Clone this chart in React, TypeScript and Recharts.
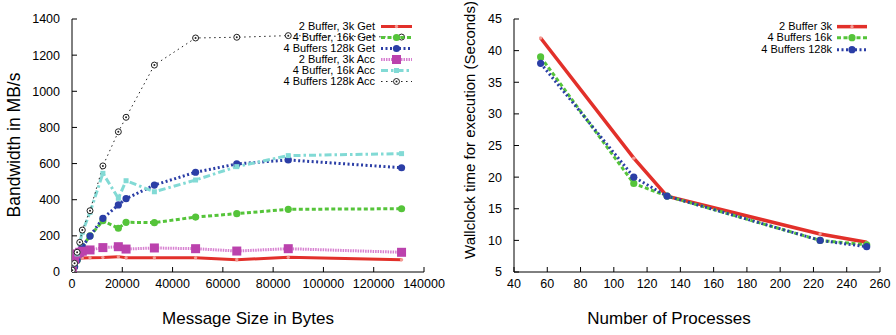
import { Legend, Line, LineChart, XAxis, YAxis } from "recharts";

const FONT = '"Liberation Sans", Arial, Helvetica, sans-serif';

// left chart: bandwidth vs message size
const msgSizes = [128, 1024, 2048, 3072, 4096, 7168, 12288, 18432, 21504, 32768, 49152, 65536, 86016, 131072];
const get3k = [5, 45, 65, 75, 78, 79, 80, 85, 79, 79, 79, 68, 81, 68];
const get16k = [5, 30, 65, 100, 140, 200, 284, 242, 275, 273, 304, 323, 347, 350];
const get128k = [5, 29, 66, 100, 140, 199, 297, 371, 406, 481, 552, 598, 620, 577];
const acc3k = [5, 70, 100, 109, 115, 122, 135, 140, 127, 133, 129, 116, 129, 109];
const acc16k = [5, 45, 100, 160, 220, 330, 546, 408, 505, 444, 509, 583, 644, 655];
const acc128k = [10, 48, 109, 164, 232, 339, 587, 776, 856, 1145, 1295, 1299, 1308, 1300];

const sizeTicks = [0, 20000, 40000, 60000, 80000, 100000, 120000, 140000];
const bwTicks = [0, 200, 400, 600, 800, 1000, 1200, 1400];

// right chart: wallclock time vs number of processes
const procs = [56, 112, 132, 224, 252];
const wall3k = [42, 23, 17, 11, 9.7];
const wall16k = [39, 19, 17, 10, 9.3];
const wall128k = [38, 20, 17, 10, 9];

const procTicks = [40, 60, 80, 100, 120, 140, 160, 180, 200, 220, 240, 260];
const timeTicks = [5, 10, 15, 20, 25, 30, 35, 40, 45];

const leftData = msgSizes.map((size, i) => ({
  size,
  get3k: get3k[i],
  get16k: get16k[i],
  get128k: get128k[i],
  acc3k: acc3k[i],
  acc16k: acc16k[i],
  acc128k: acc128k[i],
}));

const rightData = procs.map((p, i) => ({ p, t3k: wall3k[i], t16k: wall16k[i], t128k: wall128k[i] }));

type Series = {
  key: string;
  name: string;
  color: string;
  lineColor: string;
  width: number;
  dash?: string;
  marker: string;
};

const leftSeries: Series[] = [
  { key: "get3k", name: "2 Buffer, 3k Get", color: "#e2302a", lineColor: "#e2302a", width: 3, marker: "dot" },
  { key: "get16k", name: "4 Buffer, 16k Get", color: "#55c43a", lineColor: "#55c43a", width: 3, dash: "4 2.5", marker: "circle" },
  { key: "get128k", name: "4 Buffers 128k Get", color: "#2b3ea6", lineColor: "#2b3ea6", width: 3, dash: "2 2.5", marker: "circle" },
  { key: "acc3k", name: "2 Buffer, 3k Acc", color: "#bb42ad", lineColor: "#d77ed0", width: 3, dash: "1.5 1", marker: "square" },
  { key: "acc16k", name: "4 Buffer, 16k Acc", color: "#82dad5", lineColor: "#82dad5", width: 3, dash: "7 3 2.5 3", marker: "smallSquare" },
  { key: "acc128k", name: "4 Buffers 128k Acc", color: "#222222", lineColor: "#222222", width: 1, dash: "1.5 3.5", marker: "ring" },
];

const rightSeries: Series[] = [
  { key: "t3k", name: "2 Buffer 3k", color: "#e2302a", lineColor: "#e2302a", width: 3.5, marker: "dot" },
  { key: "t16k", name: "4 Buffers 16k", color: "#55c43a", lineColor: "#55c43a", width: 3, dash: "4 2.5", marker: "circle" },
  { key: "t128k", name: "4 Buffers 128k", color: "#2b3ea6", lineColor: "#2b3ea6", width: 3, dash: "2 2.5", marker: "circle" },
];

function markerShape(m: string, cx: number, cy: number, color: string, key?: string | number) {
  switch (m) {
    case "dot":
      return <circle key={key} cx={cx} cy={cy} r={1.7} fill="#f39a93" />;
    case "circle":
      return <circle key={key} cx={cx} cy={cy} r={3.6} fill={color} />;
    case "square":
      return <rect key={key} x={cx - 4.5} y={cy - 4.5} width={9} height={9} fill={color} />;
    case "smallSquare":
      return <rect key={key} x={cx - 2.5} y={cy - 2.5} width={5} height={5} fill={color} />;
    default:
      return (
        <g key={key}>
          <circle cx={cx} cy={cy} r={3} fill="#fff" stroke={color} strokeWidth={1} />
          <circle cx={cx} cy={cy} r={1} fill={color} />
        </g>
      );
  }
}

function LegendBox(props: { series: Series[]; rowH: number; gap: number; sample: number }) {
  const { series, rowH, gap, sample } = props;
  return (
    <div style={{ fontFamily: FONT, fontSize: 11, color: "#000" }}>
      {series.map((s) => (
        <div
          key={s.key}
          style={{ display: "flex", justifyContent: "flex-end", alignItems: "center", height: rowH, lineHeight: rowH + "px" }}
        >
          <span style={{ whiteSpace: "nowrap" }}>{s.name}</span>
          <svg width={sample} height={rowH} style={{ marginLeft: gap, display: "block" }}>
            <line x1={0} x2={sample} y1={rowH / 2} y2={rowH / 2} stroke={s.lineColor} strokeWidth={s.width} strokeDasharray={s.dash} />
            {markerShape(s.marker, sample / 2, rowH / 2, s.color)}
          </svg>
        </div>
      ))}
    </div>
  );
}

const tickStyle = { fill: "#000", fontSize: 12.5, fontFamily: FONT };

export default function App() {
  return (
    <div style={{ position: "absolute", left: 0, top: 0, width: 896, height: 335, background: "#fff" }}>
      <div style={{ position: "absolute", left: 0, top: 0 }}>
        <LineChart width={460} height={335} data={leftData} margin={{ top: 19, right: 36, bottom: 11, left: 0 }}>
          <XAxis
            dataKey="size"
            type="number"
            domain={[0, 140000]}
            ticks={sizeTicks}
            interval={0}
            allowDataOverflow
            height={52}
            tickSize={-5}
            tickMargin={12}
            stroke="#000"
            tick={tickStyle}
          />
          <XAxis xAxisId="top" orientation="top" type="number" domain={[0, 140000]} ticks={sizeTicks} interval={0} height={0} tickSize={-5} tick={false} stroke="#000" />
          <YAxis
            type="number"
            domain={[0, 1400]}
            ticks={bwTicks}
            interval={0}
            allowDataOverflow
            width={72}
            tickSize={-5}
            tickMargin={17}
            stroke="#000"
            tick={tickStyle}
          />
          <YAxis yAxisId="right" orientation="right" type="number" domain={[0, 1400]} ticks={bwTicks} interval={0} width={0} tickSize={-5} tick={false} stroke="#000" />
          <Legend
            layout="horizontal"
            verticalAlign="middle"
            align="center"
            wrapperStyle={{ top: 21, left: 0, width: 412 }}
            content={() => <LegendBox series={leftSeries} rowH={11} gap={6} sample={31} />}
          />
          {leftSeries.map((s) => (
            <Line
              key={s.key}
              dataKey={s.key}
              name={s.name}
              type="linear"
              stroke={s.lineColor}
              strokeWidth={s.width}
              strokeDasharray={s.dash}
              dot={(p: any) => markerShape(s.marker, p.cx, p.cy, s.color, s.key + p.index)}
              activeDot={false}
              isAnimationActive={false}
            />
          ))}
        </LineChart>
        <svg width={440} height={335} style={{ position: "absolute", left: 0, top: 0, pointerEvents: "none" }}>
          <text x={248} y={324} textAnchor="middle" fontSize={17} fontFamily={FONT} fill="#000">
            Message Size in Bytes
          </text>
          <text x={14} y={145} transform="rotate(-90 14 145)" textAnchor="middle" dominantBaseline="central" fontSize={17.5} fontFamily={FONT} fill="#000">
            Bandwidth in MB/s
          </text>
        </svg>
      </div>
      <div style={{ position: "absolute", left: 440, top: 0 }}>
        <LineChart width={456} height={335} data={rightData} margin={{ top: 19, right: 16, bottom: 11, left: 0 }}>
          <XAxis
            dataKey="p"
            type="number"
            domain={[40, 260]}
            ticks={procTicks}
            interval={0}
            allowDataOverflow
            height={52}
            tickSize={-5}
            tickMargin={12}
            stroke="#000"
            tick={tickStyle}
          />
          <XAxis xAxisId="top" orientation="top" type="number" domain={[40, 260]} ticks={procTicks} interval={0} height={0} tickSize={-5} tick={false} stroke="#000" />
          <YAxis
            type="number"
            domain={[5, 45]}
            ticks={timeTicks}
            interval={0}
            allowDataOverflow
            width={74}
            tickSize={-5}
            tickMargin={17}
            stroke="#000"
            tick={tickStyle}
          />
          <YAxis yAxisId="right" orientation="right" type="number" domain={[5, 45]} ticks={timeTicks} interval={0} width={0} tickSize={-5} tick={false} stroke="#000" />
          <Legend
            layout="horizontal"
            verticalAlign="middle"
            align="center"
            wrapperStyle={{ top: 21, left: 0, width: 427 }}
            content={() => <LegendBox series={rightSeries} rowH={11.3} gap={5} sample={30} />}
          />
          {rightSeries.map((s) => (
            <Line
              key={s.key}
              dataKey={s.key}
              name={s.name}
              type="linear"
              stroke={s.lineColor}
              strokeWidth={s.width}
              strokeDasharray={s.dash}
              dot={(p: any) => markerShape(s.marker, p.cx, p.cy, s.color, s.key + p.index)}
              activeDot={false}
              isAnimationActive={false}
            />
          ))}
        </LineChart>
        <svg width={456} height={335} style={{ position: "absolute", left: 0, top: 0, pointerEvents: "none" }}>
          <text x={229} y={324} textAnchor="middle" fontSize={17} fontFamily={FONT} fill="#000">
            Number of Processes
          </text>
          <text x={29} y={130} transform="rotate(-90 29 130)" textAnchor="middle" dominantBaseline="central" fontSize={15} fontFamily={FONT} fill="#000">
            Wallclock time for execution (Seconds)
          </text>
        </svg>
      </div>
    </div>
  );
}
